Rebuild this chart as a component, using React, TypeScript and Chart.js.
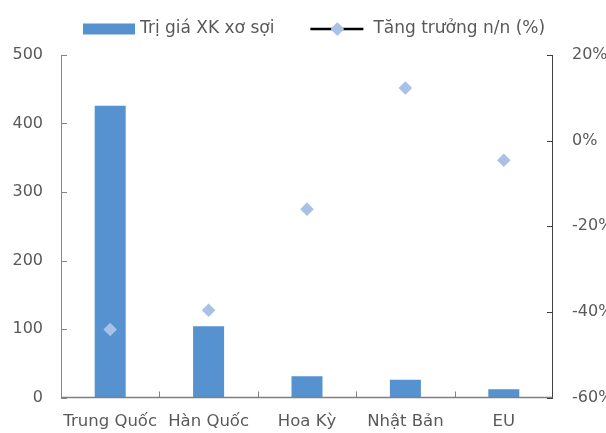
import React, { useEffect, useRef } from "react";
import { Chart, registerables } from "chart.js";

Chart.register(...registerables);

const categories = ["Trung Quốc", "Hàn Quốc", "Hoa Kỳ", "Nhật Bản", "EU"];
const exportValues = [426, 104, 31, 26, 12];
const growthValues = [-44.1, -39.6, -16.0, 12.3, -4.6];
const barLabel = "Trị giá XK xơ sợi";
const lineLabel = "Tăng trưởng n/n (%)";

const BAR_COLOR = "#5592CF";
const POINT_COLOR = "#A9C1E6";
const TEXT_COLOR = "#595959";
const FONT = "DejaVu Sans";

const customPlugin = {
  id: "customDecor",
  afterDatasetsDraw(chart: any) {
    const { ctx, chartArea, scales } = chart;
    const { left, right, top, bottom } = chartArea;
    ctx.save();
    ctx.lineWidth = 1;
    // left axis
    ctx.strokeStyle = "#868686";
    ctx.beginPath();
    ctx.moveTo(left + 0.5, top);
    ctx.lineTo(left + 0.5, bottom);
    ctx.stroke();
    scales.y.ticks.forEach((t: any) => {
      const py = Math.round(scales.y.getPixelForValue(t.value)) + 0.5;
      ctx.beginPath();
      ctx.moveTo(left, py);
      ctx.lineTo(left + 6, py);
      ctx.stroke();
    });
    // bottom axis
    ctx.strokeStyle = "#7F7F7F";
    ctx.lineWidth = 1.5;
    ctx.beginPath();
    ctx.moveTo(left, bottom);
    ctx.lineTo(right, bottom);
    ctx.stroke();
    ctx.lineWidth = 1;
    const n = categories.length;
    for (let i = 0; i < n - 1; i++) {
      const a = scales.x.getPixelForValue(i);
      const b = scales.x.getPixelForValue(i + 1);
      const px = Math.round((a + b) / 2) + 0.5;
      ctx.beginPath();
      ctx.moveTo(px, bottom);
      ctx.lineTo(px, bottom - 6);
      ctx.stroke();
    }
    // right axis
    ctx.strokeStyle = "#404040";
    ctx.beginPath();
    ctx.moveTo(right - 0.5, top);
    ctx.lineTo(right - 0.5, bottom);
    ctx.stroke();
    scales.y1.ticks.forEach((t: any) => {
      const py = Math.round(scales.y1.getPixelForValue(t.value)) + 0.5;
      ctx.beginPath();
      ctx.moveTo(right, py);
      ctx.lineTo(right - 6, py);
      ctx.stroke();
    });
    ctx.restore();
  },
  afterDraw(chart: any) {
    const { ctx } = chart;
    ctx.save();
    ctx.font = `17px "${FONT}"`;
    ctx.textBaseline = "middle";
    ctx.textAlign = "left";
    const cy = 29;
    let x = 83;
    ctx.fillStyle = BAR_COLOR;
    ctx.fillRect(x, cy - 5.5, 52, 11);
    x += 57;
    ctx.fillStyle = TEXT_COLOR;
    ctx.fillText(barLabel, x, cy);
    x += ctx.measureText(barLabel).width + 36;
    ctx.strokeStyle = "#000000";
    ctx.lineWidth = 2.5;
    ctx.beginPath();
    ctx.moveTo(x, cy);
    ctx.lineTo(x + 53, cy);
    ctx.stroke();
    const dx = x + 27;
    ctx.fillStyle = POINT_COLOR;
    ctx.strokeStyle = POINT_COLOR;
    ctx.lineWidth = 2;
    ctx.lineJoin = "round";
    ctx.beginPath();
    ctx.moveTo(dx - 5.5, cy);
    ctx.lineTo(dx, cy - 5.5);
    ctx.lineTo(dx + 5.5, cy);
    ctx.lineTo(dx, cy + 5.5);
    ctx.closePath();
    ctx.fill();
    ctx.stroke();
    x += 63;
    ctx.fillStyle = TEXT_COLOR;
    ctx.fillText(lineLabel, x, cy);
    ctx.restore();
  },
};

export default function App() {
  const canvasRef = useRef<HTMLCanvasElement | null>(null);

  useEffect(() => {
    if (!canvasRef.current) return;
    const tickFont = { family: FONT, size: 16 };
    const xTickFont = { family: FONT, size: 16.5 };
    const chart = new Chart(canvasRef.current, {
      type: "bar",
      data: {
        labels: categories,
        datasets: [
          {
            type: "bar",
            label: barLabel,
            data: exportValues,
            backgroundColor: BAR_COLOR,
            yAxisID: "y",
            categoryPercentage: 1,
            barPercentage: 0.315,
            order: 1,
          } as any,
          {
            type: "line",
            label: lineLabel,
            data: growthValues,
            yAxisID: "y1",
            showLine: false,
            pointStyle: "rectRot",
            pointRadius: 5,
            pointBackgroundColor: POINT_COLOR,
            pointBorderColor: POINT_COLOR,
            pointBorderWidth: 2.5,
            borderColor: "#000000",
            order: 0,
          } as any,
        ],
      },
      options: {
        responsive: false,
        animation: false,
        layout: { padding: { top: 55, left: 0, right: 0, bottom: 0 } },
        plugins: {
          legend: { display: false },
          tooltip: { enabled: false },
        },
        scales: {
          x: {
            grid: { display: false, drawTicks: false },
            border: { display: false },
            ticks: { color: TEXT_COLOR, font: xTickFont, padding: 14, maxRotation: 0, autoSkip: false },
            afterFit: (s: any) => {
              s.height = 35.5;
            },
          },
          y: {
            position: "left",
            min: 0,
            max: 500,
            grid: { display: false, drawTicks: false },
            border: { display: false },
            ticks: { stepSize: 100, color: TEXT_COLOR, font: tickFont, padding: 18 },
            afterFit: (s: any) => {
              s.width = 61;
            },
          },
          y1: {
            position: "right",
            min: -60,
            max: 20,
            grid: { display: false, drawTicks: false },
            border: { display: false },
            ticks: {
              stepSize: 20,
              color: TEXT_COLOR,
              font: tickFont,
              padding: 19,
              callback: (v: any) => `${v}%`,
            },
            afterFit: (s: any) => {
              s.width = 53;
            },
          },
        },
      },
      plugins: [customPlugin],
    });
    return () => chart.destroy();
  }, []);

  return (
    <div style={{ position: "absolute", left: 0, top: 0, width: 606, height: 433, background: "#ffffff" }}>
      <canvas ref={canvasRef} width={606} height={433} />
    </div>
  );
}
